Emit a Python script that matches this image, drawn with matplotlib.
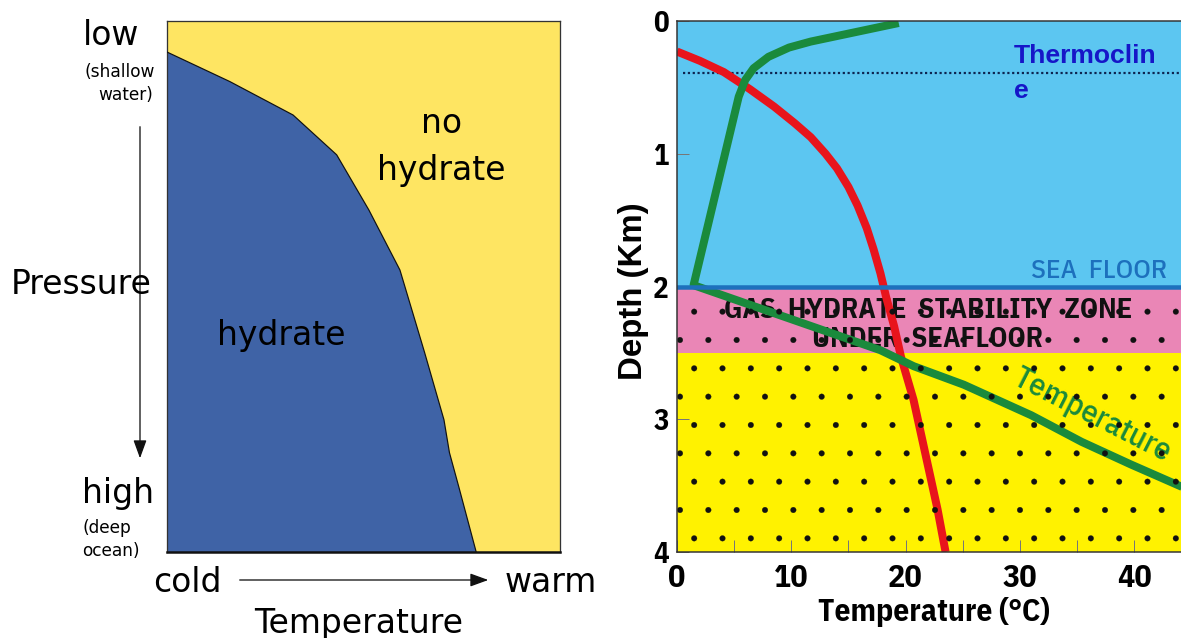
import matplotlib
matplotlib.use("Agg")
import matplotlib.pyplot as plt
from matplotlib.patches import FancyArrowPatch
from matplotlib.ticker import MultipleLocator, FixedLocator

DPI = 170
W, H = 1181, 638

def px(p):
    """pixels -> points at the figure dpi"""
    return p * 72.0 / DPI

# ---------------- data ----------------
# Left panel: schematic hydrate phase boundary (normalised temperature vs normalised pressure)
bnd_temp = [0.0, 0.161, 0.322, 0.433, 0.515, 0.594, 0.632, 0.657, 0.706, 0.720, 0.744, 0.788]
bnd_pres = [0.058, 0.114, 0.177, 0.252, 0.356, 0.469, 0.563, 0.625, 0.751, 0.813, 0.878, 1.0]

# Right panel: hydrate stability curve (red) and temperature profile (green)
stab_temp = [0.0, 2.0, 4.1, 6.4, 8.5, 10.3, 11.7, 13.0, 14.0, 15.0, 15.8, 16.6, 17.2, 17.8,
             18.3, 19.0, 19.6, 20.7, 22.8, 23.5]
stab_depth = [0.23, 0.30, 0.385, 0.515, 0.645, 0.77, 0.875, 1.0, 1.11, 1.25, 1.39, 1.56, 1.72,
              1.9, 2.08, 2.3, 2.53, 2.855, 3.68, 4.0]

geo_temp = [19.4, 11.7, 9.8, 8.0, 6.7, 5.97, 5.4, 1.45, 17.8, 20.7, 25.1, 31.0, 35.4, 39.7, 44.2]
geo_depth = [0.015, 0.155, 0.20, 0.27, 0.356, 0.444, 0.57, 1.99, 2.48, 2.60, 2.74, 2.97, 3.17,
             3.34, 3.51]

thermocline_depth = 0.39
seafloor_depth = 2.0
ghsz_base = 2.5
max_depth = 4.0
max_temp = 44.1
depth_ticks = [0, 1, 2, 3, 4]
temp_ticks = [0, 10, 20, 30, 40]

# ---------------- style ----------------
LEFT_FONT = "DejaVu Sans"
NARROW = ["IBM Plex Sans Condensed", "Archivo Narrow", "Liberation Sans", "DejaVu Sans"]
NARROW_BOLD = ["IBM Plex Sans Condensed", "Fira Sans Condensed", "Liberation Sans", "DejaVu Sans"]
ARIAL = ["Liberation Sans", "DejaVu Sans"]
plt.rcParams["hatch.linewidth"] = 0.1

C_BLUE_L = "#3f63a6"
C_YEL_L = "#fee562"
C_SEA = "#5cc6f1"
C_PINK = "#ea86b6"
C_YEL = "#fff200"
C_FLOOR = "#1d70bd"
C_GREEN = "#1a8a3c"
C_RED = "#e8141c"
C_THERMO = "#1616c8"

fig = plt.figure(figsize=(W / DPI, H / DPI), dpi=DPI)
fig.patch.set_facecolor("white")

def fx(x):
    return x / W

def fy(y):
    return 1 - y / H

# ---------------- left panel ----------------
axL = fig.add_axes([fx(166.5), fy(552), (559.5 - 166.5) / W, (552 - 21) / H])
axL.set_xlim(0, 1)
axL.set_ylim(1, 0)
axL.set_facecolor(C_YEL_L)
axL.fill_betweenx(bnd_pres, 0, bnd_temp, facecolor=C_BLUE_L, edgecolor="none", zorder=2)
axL.plot(bnd_temp, bnd_pres, color="#111111", lw=px(1.2), zorder=3)
axL.set_xticks([])
axL.set_yticks([])
for s in axL.spines.values():
    s.set_color("#333333")
    s.set_linewidth(px(1.3))
axL.spines["bottom"].set_linewidth(px(2.5))
axL.spines["bottom"].set_color("#111111")

big = px(33)
small = px(17)
fig.text(fx(111), fy(45), "low", ha="center", va="baseline", fontsize=big, family=LEFT_FONT)
fig.text(fx(155), fy(77), "(shallow", ha="right", va="baseline", fontsize=small, family=LEFT_FONT)
fig.text(fx(153), fy(100), "water)", ha="right", va="baseline", fontsize=small, family=LEFT_FONT)
fig.text(fx(11), fy(294), "Pressure", ha="left", va="baseline", fontsize=big, family=LEFT_FONT)
fig.text(fx(82), fy(503), "high", ha="left", va="baseline", fontsize=big, family=LEFT_FONT)
fig.text(fx(82), fy(533), "(deep", ha="left", va="baseline", fontsize=small, family=LEFT_FONT)
fig.text(fx(82), fy(556), "ocean)", ha="left", va="baseline", fontsize=small, family=LEFT_FONT)
fig.text(fx(153), fy(592), "cold", ha="left", va="baseline", fontsize=big, family=LEFT_FONT)
fig.text(fx(505), fy(592), "warm", ha="left", va="baseline", fontsize=big, family=LEFT_FONT)
fig.text(fx(359), fy(633), "Temperature", ha="center", va="baseline", fontsize=big, family=LEFT_FONT)
axL.text(0.70, 0.210, "no", ha="center", va="baseline", fontsize=big, family=LEFT_FONT, zorder=4)
axL.text(0.70, 0.300, "hydrate", ha="center", va="baseline", fontsize=big, family=LEFT_FONT, zorder=4)
axL.text(0.292, 0.610, "hydrate", ha="center", va="baseline", fontsize=big, family=LEFT_FONT, zorder=4)

arrow_kw = dict(transform=fig.transFigure, arrowstyle="-|>,head_length=0.55,head_width=0.2",
                mutation_scale=px(28), lw=px(1.3), color="#111111")
fig.add_artist(FancyArrowPatch((fx(140), fy(122)), (fx(140), fy(463)), **arrow_kw))
fig.add_artist(FancyArrowPatch((fx(235), fy(580)), (fx(493), fy(580)), **arrow_kw))

# ---------------- right panel ----------------
axR = fig.add_axes([fx(677), fy(552), (W - 677) / W, (552 - 21) / H])
axR.set_xlim(0, max_temp)
axR.set_ylim(max_depth, 0)

axR.axhspan(0, seafloor_depth, facecolor=C_SEA, edgecolor="none", zorder=0)
axR.axhspan(seafloor_depth, ghsz_base, facecolor=C_PINK, edgecolor="none", zorder=0)
axR.axhspan(ghsz_base, max_depth, facecolor=C_YEL, edgecolor="none", zorder=0)
axR.axhspan(seafloor_depth, max_depth, facecolor="none", edgecolor="#111111", hatch=".",
            lw=0, zorder=6)
axR.axhline(seafloor_depth, color=C_FLOOR, lw=px(4.5), zorder=7)
axR.hlines(thermocline_depth, 0.5, max_temp, colors="#0d2450", linestyles=(0, (1, 1.2)),
           lw=px(2.2), zorder=3)

axR.text(29.5, 0.319, "Thermoclin", ha="left", va="baseline", fontsize=px(26.5),
         fontweight="bold", family=ARIAL, color=C_THERMO, zorder=4)
axR.text(29.5, 0.58, "e", ha="left", va="baseline", fontsize=px(26.5),
         fontweight="bold", family=ARIAL, color=C_THERMO, zorder=4)
axR.text(31.0, 1.936, "SEA  FLOOR", ha="left", va="baseline", fontsize=px(27.5),
         fontweight="medium", family=NARROW, color=C_FLOOR, zorder=4)
axR.text(21.95, 2.24, "GAS  HYDRATE  STABILITY  ZONE", ha="center", va="baseline",
         fontsize=px(28.5), fontweight="bold", family=NARROW_BOLD, color="#111111", zorder=4)
axR.text(21.9, 2.453, "UNDER  SEAFLOOR", ha="center", va="baseline",
         fontsize=px(28.5), fontweight="bold", family=NARROW_BOLD, color="#111111", zorder=4)
axR.text(36.3, 2.97, "Temperature", ha="center", va="center", rotation=-27,
         rotation_mode="anchor", fontsize=px(32), fontweight="medium", family=NARROW,
         color=C_GREEN, zorder=4)

axR.plot(stab_temp, stab_depth, color=C_RED, lw=px(8), solid_capstyle="butt",
         solid_joinstyle="round", zorder=5)
axR.plot(geo_temp, geo_depth, color=C_GREEN, lw=px(8), solid_capstyle="butt",
         solid_joinstyle="round", zorder=5)

axR.xaxis.set_major_locator(FixedLocator(temp_ticks))
axR.xaxis.set_minor_locator(MultipleLocator(5))
axR.yaxis.set_major_locator(FixedLocator(depth_ticks))
axR.set_xticklabels([str(t) for t in temp_ticks])
axR.set_yticklabels([str(d) for d in depth_ticks])
axR.tick_params(axis="both", which="both", direction="in", color="#777777",
                width=px(1), length=px(12))
axR.tick_params(axis="x", which="major", pad=px(12), labelsize=px(32))
axR.tick_params(axis="y", which="major", pad=px(8), labelsize=px(29))
for lbl in axR.get_xticklabels() + axR.get_yticklabels():
    lbl.set_fontfamily(NARROW_BOLD)
    lbl.set_fontweight("bold")

axR.set_xlabel("Temperature (°C)", fontsize=px(31.5), fontweight="bold", family=NARROW_BOLD)
axR.xaxis.set_label_coords((934 - 677) / (W - 677), -(597 - 552) / (552 - 21))
axR.set_ylabel("Depth (Km)", fontsize=px(33), fontweight="bold", family=ARIAL)
axR.yaxis.set_label_coords(-(677 - 649) / (W - 677), (552 - 291) / (552 - 21))

for side in ["left", "bottom", "top"]:
    axR.spines[side].set_color("#333333")
    axR.spines[side].set_linewidth(px(1.5))
    axR.spines[side].set_zorder(8)
axR.spines["right"].set_visible(False)

fig.savefig("out.png", dpi=DPI, facecolor="white")
